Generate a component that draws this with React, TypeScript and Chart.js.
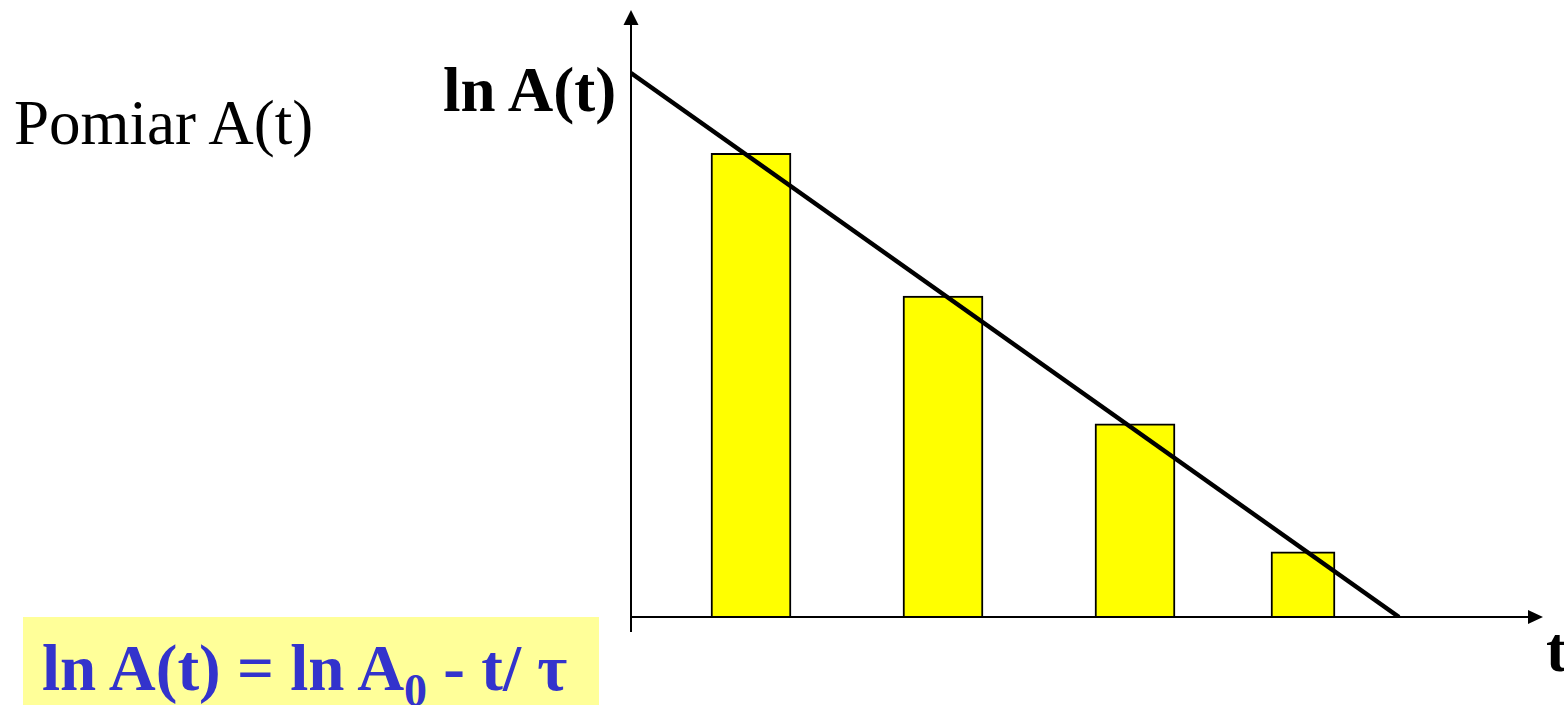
import { useEffect, useRef } from "react";
import { Chart, registerables } from "chart.js";

Chart.register(...registerables);

// Measured ln A(t) in the first three time windows
const BAR_TIMES = [0.625, 1.625, 2.625];
const BAR_LN_A = [3.41, 2.36, 1.42];
// Last, shorter time window
const LAST_BAR_TIMES = [3.5];
const LAST_BAR_LN_A = [0.48];
// Straight-line fit ln A(t) = ln A0 - t/τ
const FIT_TIMES = [0, 4];
const FIT_LN_A = [4, 0];
// Axis ranges
const T_MAX = 4.75;
const LN_A_MAX = 4.463;

const SERIF = '"Liberation Serif", "Times New Roman", Times, serif';

const arrowAxes = {
  id: "arrowAxes",
  afterDatasetsDraw(chart: any) {
    const { ctx } = chart;
    const xs = chart.scales.x;
    const ys = chart.scales.y;
    const x0 = xs.getPixelForValue(0);
    const y0 = ys.getPixelForValue(0);
    const xEnd = xs.getPixelForValue(T_MAX);
    const yEnd = ys.getPixelForValue(LN_A_MAX);
    ctx.save();
    ctx.strokeStyle = "#000";
    ctx.fillStyle = "#000";
    ctx.lineWidth = 2;
    ctx.beginPath();
    ctx.moveTo(x0, y0 + 15);
    ctx.lineTo(x0, yEnd + 14);
    ctx.moveTo(x0, y0);
    ctx.lineTo(xEnd - 14, y0);
    ctx.stroke();
    // arrow heads
    ctx.beginPath();
    ctx.moveTo(x0, yEnd);
    ctx.lineTo(x0 - 7.5, yEnd + 15);
    ctx.lineTo(x0 + 7.5, yEnd + 15);
    ctx.closePath();
    ctx.fill();
    ctx.beginPath();
    ctx.moveTo(xEnd, y0);
    ctx.lineTo(xEnd - 15, y0 - 7);
    ctx.lineTo(xEnd - 15, y0 + 7);
    ctx.closePath();
    ctx.fill();
    ctx.restore();
  },
};

const toPoints = (xs: number[], ys: number[]) => xs.map((x, i) => ({ x, y: ys[i] }));

export default function App() {
  const canvasRef = useRef<HTMLCanvasElement | null>(null);

  useEffect(() => {
    const canvas = canvasRef.current;
    if (!canvas) return;
    const chart = new Chart(canvas, {
      type: "bar",
      data: {
        datasets: [
          {
            type: "line",
            data: toPoints(FIT_TIMES, FIT_LN_A),
            borderColor: "#000",
            borderWidth: 4.5,
            pointRadius: 0,
            fill: false,
            order: 0,
          } as any,
          {
            type: "bar",
            data: toPoints(BAR_TIMES, BAR_LN_A),
            backgroundColor: "#FFFF00",
            borderColor: "#000",
            borderWidth: 2,
            barThickness: 80,
            grouped: false,
            order: 1,
          } as any,
          {
            type: "bar",
            data: toPoints(LAST_BAR_TIMES, LAST_BAR_LN_A),
            backgroundColor: "#FFFF00",
            borderColor: "#000",
            borderWidth: 2,
            barThickness: 64,
            grouped: false,
            order: 1,
          } as any,
        ],
      },
      options: {
        responsive: false,
        animation: false,
        events: [],
        layout: { padding: { left: 631, right: 21, top: 10, bottom: 88 } },
        plugins: { legend: { display: false }, tooltip: { enabled: false } },
        scales: {
          x: { type: "linear", min: 0, max: T_MAX, offset: false, display: false },
          y: { type: "linear", min: 0, max: LN_A_MAX, display: false },
        },
      },
      plugins: [arrowAxes],
    });
    return () => chart.destroy();
  }, []);

  const text = (extra: any) => ({
    position: "absolute" as const,
    whiteSpace: "nowrap" as const,
    lineHeight: 1,
    fontFamily: SERIF,
    color: "#000",
    margin: 0,
    ...extra,
  });

  return (
    <div
      style={{
        position: "absolute",
        left: 0,
        top: 0,
        width: 1564,
        height: 705,
        overflow: "hidden",
        background: "#fff",
      }}
    >
      <canvas
        ref={canvasRef}
        width={1564}
        height={705}
        style={{ position: "absolute", left: 0, top: 0, width: 1564, height: 705 }}
      />
      <div style={text({ left: 14, top: 92, fontSize: 63 })}>Pomiar A(t)</div>
      <div style={text({ left: 443, top: 59, fontSize: 63, fontWeight: "bold" })}>ln A(t)</div>
      <div style={text({ left: 1546, top: 619, fontSize: 63, fontWeight: "bold" })}>t</div>
      <div
        style={{
          position: "absolute",
          left: 23,
          top: 617,
          width: 576,
          height: 88,
          background: "#FFFF99",
        }}
      />
      <div
        style={text({
          left: 42,
          top: 636,
          fontSize: 65,
          fontWeight: "bold",
          color: "#3333CC",
        })}
      >
        ln A(t) = ln A
        <span style={{ fontSize: 46, position: "relative", top: 16 }}>0</span>
        {" - t/ τ"}
      </div>
    </div>
  );
}
